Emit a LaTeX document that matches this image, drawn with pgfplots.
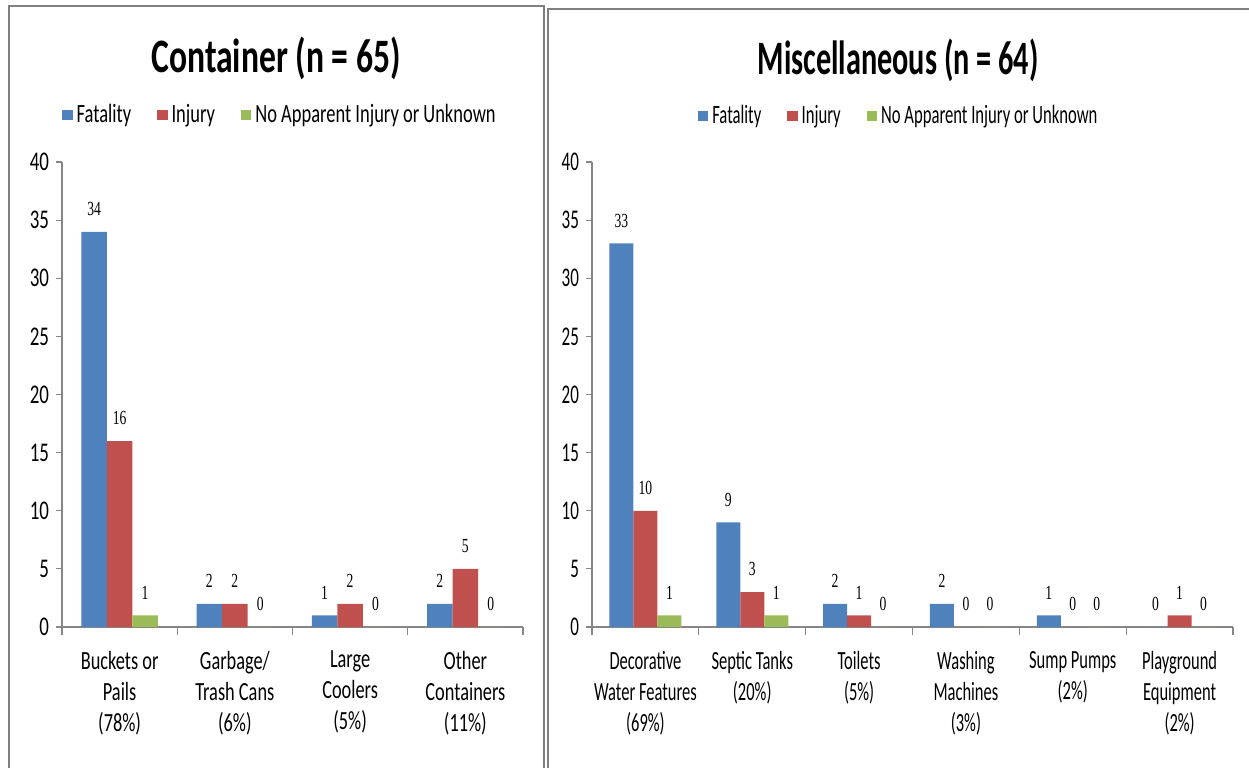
\documentclass[border=0pt]{standalone}
\usepackage{fontspec}
\setmainfont{Carlito}[FakeStretch=0.70]
\newfontfamily\rfont{Carlito}[FakeStretch=0.63]
\newfontfamily\ltitle{Carlito}[FakeStretch=0.70]
\newfontfamily\labelfont{Liberation Serif}[FakeStretch=0.68]
\usepackage{pgfplots}
\pgfplotsset{compat=1.18}
\definecolor{cblue}{HTML}{4F81BD}
\definecolor{cred}{HTML}{C0504D}
\definecolor{cgreen}{HTML}{9BBB59}
\definecolor{axgray}{HTML}{868686}
\definecolor{framegray}{HTML}{7F7F7F}
\pgfplotsset{
  sq/.style={legend image code/.code={\fill[##1] (0pt,-2.6pt) rectangle (5.2pt,2.6pt);}},
  common/.style={
    scale only axis,
    height=232.5pt,
    ybar=0pt,
    ymin=0, ymax=40,
    ytick={0,5,...,40},
    axis lines*=left,
    axis line style={axgray, line width=0.6pt},
    tick style={axgray, line width=0.6pt},
    tick align=outside,
    major tick length=3pt,
    minor tick length=4pt,
    x tick style={draw=none},
    minor x tick style={draw=axgray},
    xtick=data,
    /pgf/number format/assume math mode=true,
    yticklabel style={font=#1\fontsize{13.5}{15}\selectfont, xshift=0pt},
    xticklabel style={font=#1\fontsize{13.1}{15.5}\selectfont, align=center, yshift=-5.5pt},
    nodes near coords,
    every node near coord/.append style={font=\labelfont\fontsize{10}{11}\selectfont, yshift=4.5pt, text=black},
    legend columns=3,
    legend style={draw=none, fill=none, font=#1\fontsize{13.2}{14}\selectfont,
      /tikz/every even column/.append style={column sep=11pt},
      inner sep=0pt},
    legend cell align=left,
  }
}
\begin{document}
\begin{tikzpicture}
\path[use as bounding box] (0,0) rectangle (624.5pt,383.5pt);
\draw[framegray, line width=1.1pt] (4.5pt,-5pt) -- (4.5pt,380.5pt) -- (272pt,380.5pt) -- (272pt,-5pt);
\draw[framegray, line width=1.1pt] (273.8pt,-5pt) -- (273.8pt,379pt) -- (630pt,379pt);
\node[font=\ltitle\bfseries\fontsize{24}{28}\selectfont, anchor=base] at (138pt,347pt) {Container (n = 65)};
\node[font=\rfont\bfseries\fontsize{24}{28}\selectfont, anchor=base] at (449pt,346pt) {Miscellaneous (n = 64)};
\begin{axis}[common=\rmfamily,
  at={(31pt,70pt)}, anchor=south west,
  width=230.5pt,
  xmin=-0.5, xmax=3.5,
  bar width=12.75pt,
  minor xtick={-0.5,0.5,1.5,2.5,3.5},
  xticklabels={Buckets or\\Pails\\(78\%),Garbage/\\Trash Cans\\(6\%),Large\\Coolers\\(5\%),Other\\Containers\\(11\%)},
  legend style={at={(0.475,1.101)}, anchor=center},
]
\addplot[fill=cblue, draw=none, sq] coordinates {(0,34) (1,2) (2,1) (3,2)};
\addplot[fill=cred, draw=none, sq] coordinates {(0,16) (1,2) (2,2) (3,5)};
\addplot[fill=cgreen, draw=none, sq] coordinates {(0,1) (1,0) (2,0) (3,0)};
\legend{Fatality,Injury,No Apparent Injury or Unknown}
\end{axis}
\begin{axis}[common=\rfont,
  at={(296pt,70pt)}, anchor=south west,
  width=320.5pt,
  xmin=-0.5, xmax=5.5,
  bar width=12pt,
  minor xtick={-0.5,0.5,1.5,2.5,3.5,4.5,5.5},
  xticklabels={Decorative\\Water Features\\(69\%),Septic Tanks\\(20\%),Toilets\\(5\%),Washing\\Machines\\(3\%),Sump Pumps\\(2\%),Playground\\Equipment\\(2\%)},
  legend style={at={(0.48,1.099)}, anchor=center},
]
\addplot[fill=cblue, draw=none, sq] coordinates {(0,33) (1,9) (2,2) (3,2) (4,1) (5,0)};
\addplot[fill=cred, draw=none, sq] coordinates {(0,10) (1,3) (2,1) (3,0) (4,0) (5,1)};
\addplot[fill=cgreen, draw=none, sq] coordinates {(0,1) (1,1) (2,0) (3,0) (4,0) (5,0)};
\legend{Fatality,Injury,No Apparent Injury or Unknown}
\end{axis}
\end{tikzpicture}
\end{document}
